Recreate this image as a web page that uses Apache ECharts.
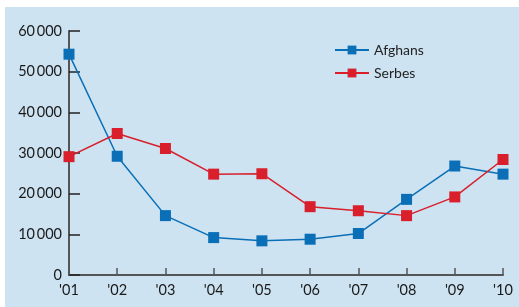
<!DOCTYPE html>
<html>
<head>
<meta charset="utf-8">
<script src="https://cdn.jsdelivr.net/npm/echarts@6/dist/echarts.min.js"></script>
<style>
  html, body { margin: 0; padding: 0; background: #fff; }
  #chart { width: 519px; height: 307px; }
</style>
</head>
<body>
<div id="chart"></div>
<script>
// years on the x axis
const years = ["'01", "'02", "'03", "'04", "'05", "'06", "'07", "'08", "'09", "'10"]
const afghans = [54300, 29200, 14600, 9200, 8400, 8800, 10200, 18600, 26800, 24800]
const serbes = [29100, 34800, 31100, 24800, 24900, 16800, 15800, 14600, 19200, 28400]

const blue = '#0a6fb7'
const red = '#d81f2b'

const chart = echarts.init(document.getElementById('chart'))
chart.setOption({
  animation: false,
  textStyle: { fontFamily: 'Lato' },
  graphic: [
    {
      type: 'rect',
      z: -10,
      shape: { x: 5, y: 7, width: 514, height: 300 },
      style: { fill: '#cde3f1' }
    }
  ],
  legend: {
    left: 329,
    top: 38,
    orient: 'vertical',
    itemGap: 9,
    itemWidth: 34,
    itemHeight: 11,
    textStyle: { fontSize: 14, color: '#222' },
    data: ['Afghans', 'Serbes']
  },
  grid: { left: 69, right: 16, top: 31, bottom: 32 },
  xAxis: {
    type: 'category',
    data: years,
    boundaryGap: false,
    axisLine: { lineStyle: { color: '#555', width: 2 } },
    axisTick: { inside: true, length: 7, lineStyle: { color: '#555', width: 1.5 } },
    axisLabel: { fontSize: 14.5, color: '#1a1a1a', margin: 8 }
  },
  yAxis: {
    type: 'value',
    min: 0,
    max: 60000,
    interval: 10000,
    axisLine: { show: true, lineStyle: { color: '#555', width: 2 } },
    axisTick: { show: true, inside: true, length: 11, lineStyle: { color: '#222', width: 1.5 } },
    splitLine: { show: false },
    axisLabel: {
      fontSize: 14.5,
      color: '#1a1a1a',
      margin: 7,
      formatter: v => v === 0 ? '0' : String(v / 1000) + '\u2009000'
    }
  },
  series: [
    {
      name: 'Afghans',
      type: 'line',
      data: afghans,
      symbol: 'rect',
      symbolSize: 11,
      color: blue,
      lineStyle: { width: 1.5, color: blue },
      itemStyle: { color: blue }
    },
    {
      name: 'Serbes',
      type: 'line',
      data: serbes,
      symbol: 'rect',
      symbolSize: 11,
      color: red,
      lineStyle: { width: 1.5, color: red },
      itemStyle: { color: red }
    }
  ]
})
</script>
</body>
</html>
